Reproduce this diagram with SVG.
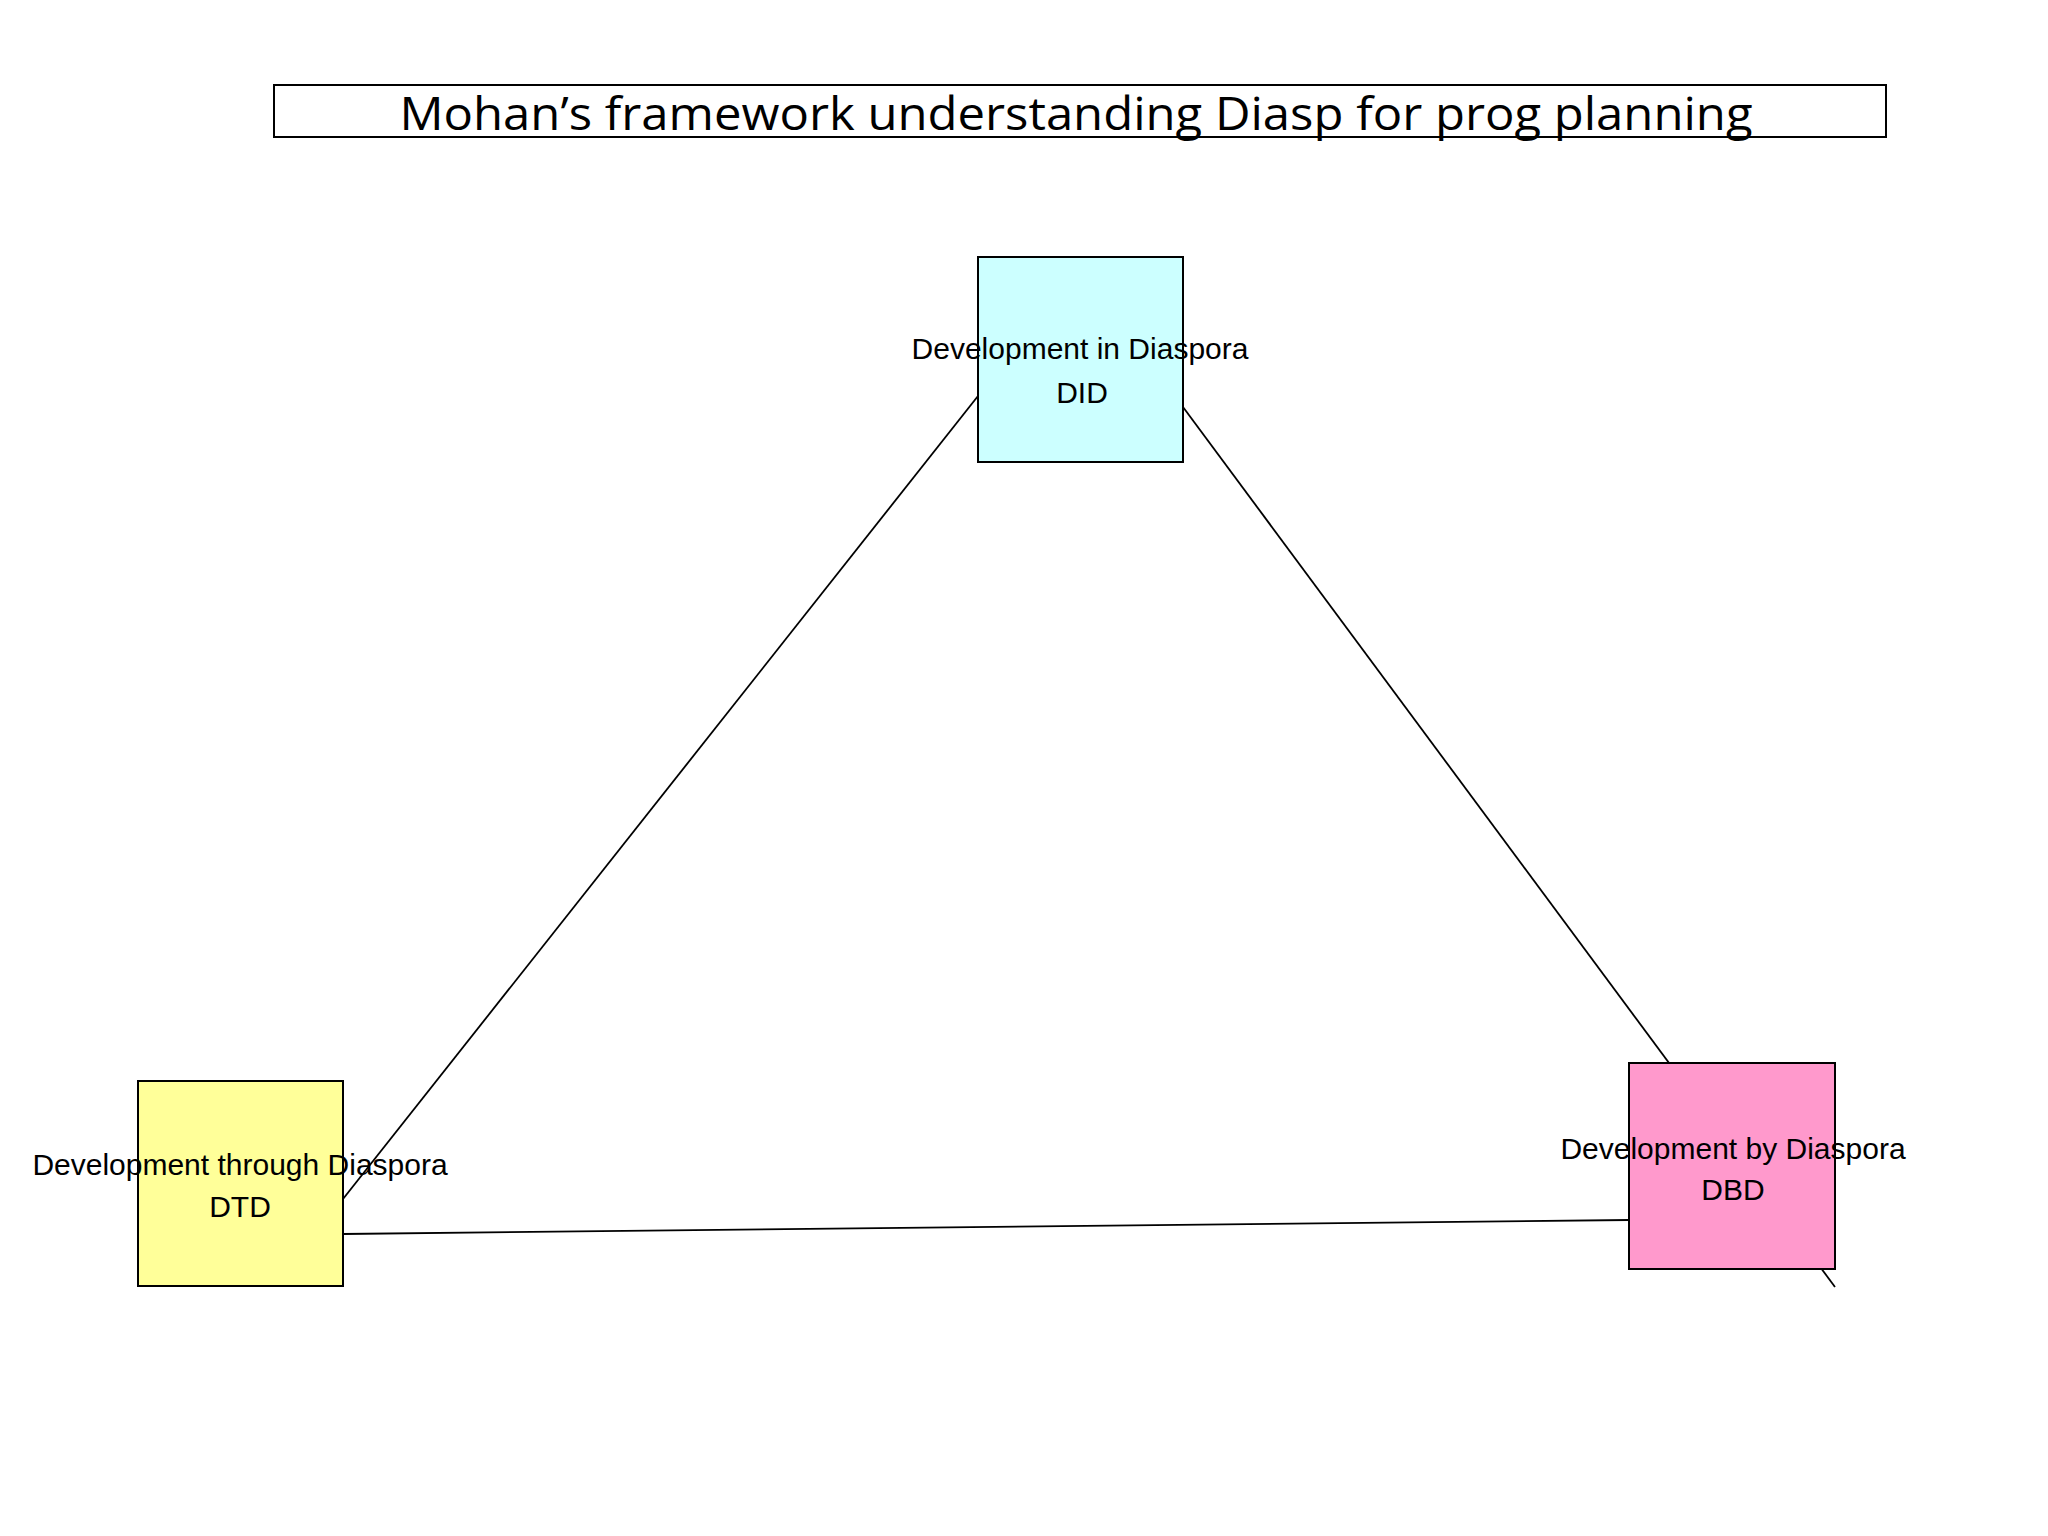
<svg xmlns="http://www.w3.org/2000/svg" width="2048" height="1536" viewBox="0 0 2048 1536" xml:space="preserve">
<style>
.n{stroke:#000;stroke-width:2}
.t{font-family:"Liberation Sans",Arial,sans-serif;font-size:30px;text-anchor:middle;fill:#000}
.c{stroke:#000;stroke-width:1.8;fill:none}
</style>
<rect width="2048" height="1536" fill="#fff"/>
<g id="title">
<rect x="274" y="85" width="1612" height="52" fill="none" stroke="#000" stroke-width="2"/>
<text x="1076" y="130" font-family="'Open Sans','Noto Sans',sans-serif" font-size="46" text-anchor="middle" textLength="1353" lengthAdjust="spacingAndGlyphs">Mohan’s framework understanding Diasp for prog planning</text>
</g>
<g id="connectors">
<line class="c" x1="978" y1="396" x2="343" y2="1199"/>
<line class="c" x1="1183" y1="407" x2="1835" y2="1287"/>
<line class="c" x1="343" y1="1234" x2="1629" y2="1220"/>
</g>
<g id="DID">
<rect class="n" x="978" y="257" width="205" height="205" fill="#ccffff"/>
<text class="t" x="1080" y="359">Development in  Diaspora</text>
<text class="t" x="1082" y="403">DID</text>
</g>
<g id="DTD">
<rect class="n" x="138" y="1081" width="205" height="205" fill="#ffff99"/>
<text class="t" x="240" y="1175">Development through  Diaspora</text>
<text class="t" x="240" y="1217">DTD</text>
</g>
<g id="DBD">
<rect class="n" x="1629" y="1063" width="206" height="206" fill="#ff99cc"/>
<text class="t" x="1733" y="1159">Development by Diaspora</text>
<text class="t" x="1733" y="1200">DBD</text>
</g>
</svg>
